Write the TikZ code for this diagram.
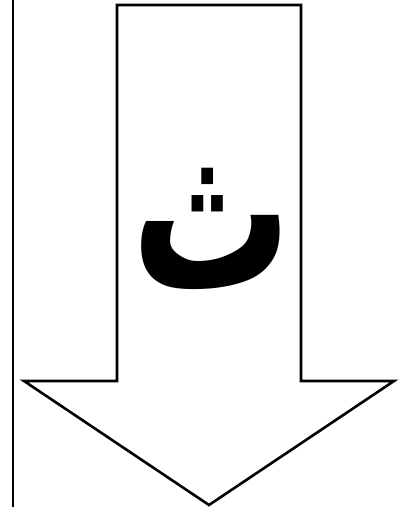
\documentclass[tikz,border=0pt]{standalone}
\usepackage{fontspec}
\TeXXeTstate=1
\newfontfamily\arabicfont[Script=Arabic]{DejaVu Sans}
\begin{document}
\begin{tikzpicture}[x=1pt,y=-1pt,
  arrowshape/.style={draw=black,line width=2.6pt,line join=miter,fill=white},
  sideline/.style={draw=black,line width=2.6pt}]
\useasboundingbox (0,0) rectangle (401,509);
\draw[sideline] (13,0) -- (13,507);
\draw[arrowshape] (117,5) -- (301,5) -- (301,381) -- (394,381) -- (209,505) -- (24,381) -- (117,381) -- cycle;
\node[xscale=1,yscale=1.4,inner sep=0pt] (letter) at (212,229) {\fontsize{160}{170}\selectfont\arabicfont\bfseries\beginR ث\endR};
\end{tikzpicture}
\end{document}
